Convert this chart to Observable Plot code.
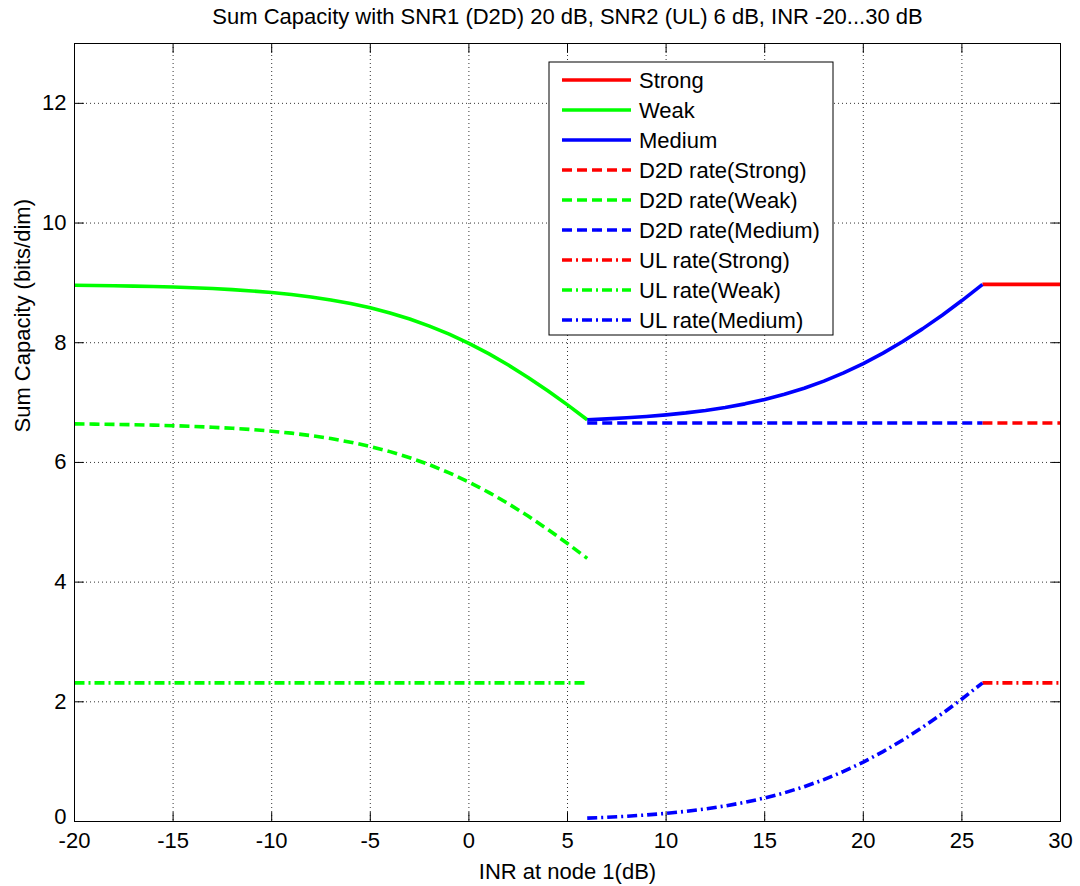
<!DOCTYPE html>
<html><head><meta charset="utf-8">
<script src="https://cdn.jsdelivr.net/npm/d3@7"></script>
<script src="https://cdn.jsdelivr.net/npm/@observablehq/plot@0.6"></script>
<style>body{margin:0;background:#fff;} #chart svg{display:block;}</style>
</head><body><div id="chart"></div>
<script>
// ---- data ----
const titleText = "Sum Capacity with SNR1 (D2D) 20 dB, SNR2 (UL) 6 dB, INR -20...30 dB";
const xLabel = "INR at node 1(dB)";
const yLabel = "Sum Capacity (bits/dim)";
const xTicks = [-20, -15, -10, -5, 0, 5, 10, 15, 20, 25, 30];
const yTicks = [0, 2, 4, 6, 8, 10, 12];

const weakX = [-20,-19,-18,-17,-16,-15,-14,-13,-12,-11,-10,-9,-8,-7,-6,-5,-4,-3,-2,-1,0,1,2,3,4,5,6];
const weakTotal = [8.9605,8.9568,8.9523,8.9465,8.9393,8.9302,8.9190,8.9049,8.8873,8.8656,8.8387,8.8055,8.7647,8.7151,8.6550,8.5828,8.4969,8.3957,8.2780,8.1426,7.9889,7.8170,7.6271,7.4203,7.1979,6.9618,6.7141];
const weakD2D = [6.6440,6.6403,6.6358,6.6300,6.6228,6.6137,6.6025,6.5884,6.5708,6.5491,6.5222,6.4890,6.4482,6.3986,6.3385,6.2663,6.1804,6.0792,5.9615,5.8261,5.6724,5.5005,5.3106,5.1038,4.8814,4.6453,4.3976];
const weakULX = [-20, 6];
const weakUL = [2.3165, 2.3165];

const mediumX = [6,7,8,9,10,11,12,13,14,15,16,17,18,19,20,21,22,23,24,25,26,26.04];
const mediumTotal = [6.7140,6.7281,6.7456,6.7674,6.7944,6.8277,6.8685,6.9183,6.9786,7.0512,7.1376,7.2395,7.3584,7.4953,7.6510,7.8259,8.0195,8.2313,8.4602,8.7047,8.9632,8.9747];
const mediumD2DX = [6, 26.04];
const mediumD2D = [6.6582, 6.6582];
const mediumUL = [0.0558,0.0699,0.0874,0.1092,0.1362,0.1695,0.2103,0.2601,0.3204,0.3930,0.4794,0.5813,0.7002,0.8371,0.9928,1.1677,1.3613,1.5731,1.8020,2.0465,2.3050,2.3165];

const strongX = [26.04, 30];
const strongTotal = [8.9747, 8.9747];
const strongD2D = [6.6582, 6.6582];
const strongUL = [2.3165, 2.3165];

const seriesNames = ["Strong","Weak","Medium","D2D rate(Strong)","D2D rate(Weak)","D2D rate(Medium)","UL rate(Strong)","UL rate(Weak)","UL rate(Medium)"];

// ---- styles ----
const RED = "#ff0000", GREEN = "#00ff00", BLUE = "#0000ff";
const DASH = "10,5", DASHDOT = "10,4,2,4";
const LW = 3.6;
const FS = 22;
const FONT = "'Liberation Sans', Arial, Helvetica, sans-serif";

const zip = (xs, ys) => xs.map((x, i) => ({x, y: ys[i]}));
const series = [
  {data: zip(strongX, strongTotal), color: RED, dash: null},
  {data: zip(weakX, weakTotal), color: GREEN, dash: null},
  {data: zip(mediumX, mediumTotal), color: BLUE, dash: null},
  {data: zip(strongX, strongD2D), color: RED, dash: DASH},
  {data: zip(weakX, weakD2D), color: GREEN, dash: DASH},
  {data: zip(mediumD2DX, mediumD2D), color: BLUE, dash: DASH},
  {data: zip(strongX, strongUL), color: RED, dash: DASHDOT},
  {data: zip(weakULX, weakUL), color: GREEN, dash: DASHDOT},
  {data: zip(mediumX, mediumUL), color: BLUE, dash: DASHDOT}
];

const tickShape = {draw(ctx, l) { ctx.moveTo(0, 0); ctx.lineTo(0, -l); }};
const TL = 9;

const plot = Plot.plot({
  width: 1080,
  height: 886,
  marginTop: 43,
  marginBottom: 65,
  marginLeft: 74,
  marginRight: 20,
  style: {fontFamily: FONT, fontSize: FS + "px", background: "#fff", color: "#000"},
  x: {domain: [-20, 30]},
  y: {domain: [0, 13]},
  marks: [
    Plot.ruleX(xTicks.slice(1, -1), {stroke: "#000", strokeWidth: 1, strokeDasharray: "1,3", strokeOpacity: 0.8}),
    Plot.ruleY(yTicks.slice(1), {stroke: "#000", strokeWidth: 1, strokeDasharray: "1,3", strokeOpacity: 0.8}),
    // inward ticks
    Plot.vector(xTicks, {x: d => d, y: 0, length: TL, rotate: 0, anchor: "start", shape: tickShape, stroke: "#000", strokeWidth: 1}),
    Plot.vector(xTicks, {x: d => d, y: 13, length: TL, rotate: 180, anchor: "start", shape: tickShape, stroke: "#000", strokeWidth: 1}),
    Plot.vector(yTicks, {x: -20, y: d => d, length: TL, rotate: 90, anchor: "start", shape: tickShape, stroke: "#000", strokeWidth: 1}),
    Plot.vector(yTicks, {x: 30, y: d => d, length: TL, rotate: -90, anchor: "start", shape: tickShape, stroke: "#000", strokeWidth: 1}),
    Plot.axisX({ticks: xTicks, tickSize: 0, tickPadding: 11, tickFormat: d => String(d), label: null, fontSize: FS}),
    Plot.axisY({ticks: yTicks.slice(1), tickSize: 0, tickPadding: 8, tickFormat: d => String(d), label: null, fontSize: FS}),
    // the "0" label sits just above the x labels, as in the reference
    Plot.text([yTicks[0]], {x: -20, y: d => d, text: d => String(d), dx: -8, dy: -5, textAnchor: "end", fontSize: FS, fill: "#000"}),
    ...series.map(s => Plot.line(s.data, {x: "x", y: "y", stroke: s.color, strokeWidth: LW, strokeDasharray: s.dash, strokeLinecap: "butt", strokeLinejoin: "round"})),
    Plot.frame({stroke: "#000", strokeWidth: 1}),
    Plot.text([titleText], {frameAnchor: "top", dy: -35, fontSize: FS, fill: "#000"}),
    Plot.text([xLabel], {frameAnchor: "bottom", dy: 57, fontSize: FS, fill: "#000"}),
    Plot.text([yLabel], {frameAnchor: "left", dx: -52, rotate: -90, fontSize: FS, fill: "#000"})
  ]
});

document.getElementById("chart").appendChild(plot);

// ---- legend ----
const svg = d3.select(plot);
const lg = svg.append("g").attr("font-family", FONT).attr("font-size", FS).attr("text-anchor", "start");
const bx = 549, by = 62, bw = 284, bh = 273;
lg.append("rect").attr("x", bx).attr("y", by).attr("width", bw).attr("height", bh)
  .attr("fill", "#fff").attr("stroke", "#000").attr("stroke-width", 1);
seriesNames.forEach((name, i) => {
  const s = series[i];
  const yy = 80 + i * 30;
  lg.append("line").attr("x1", 562).attr("x2", 631).attr("y1", yy).attr("y2", yy)
    .attr("stroke", s.color).attr("stroke-width", LW)
    .attr("stroke-dasharray", s.dash);
  lg.append("text").attr("x", 639).attr("y", yy).attr("dy", "0.35em").attr("text-anchor", "start").attr("fill", "#000").text(name);
});
</script></body></html>
